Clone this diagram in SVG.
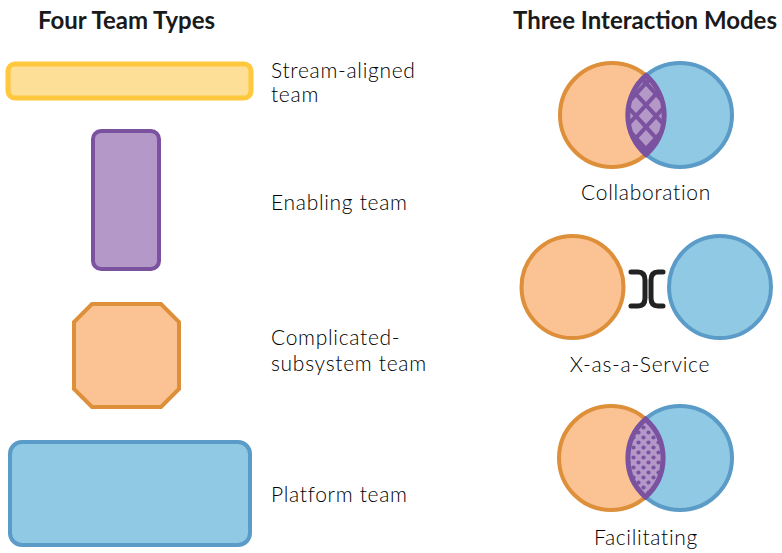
<svg xmlns="http://www.w3.org/2000/svg" width="782" height="553" viewBox="0 0 782 553">
<style>
.title{font-family:Lato,"Open Sans","Liberation Sans",sans-serif;font-weight:bold;font-size:24px;fill:#1a1a1a}
.lbl{font-family:Lato,"Open Sans","Liberation Sans",sans-serif;font-weight:300;font-size:21px;letter-spacing:0.7px;fill:#000}
.mid{text-anchor:middle}
.or{fill:#FBC393;stroke:#DE8F3A;stroke-width:4}
.bl{fill:#8FC9E3;stroke:#5A9BC8;stroke-width:4}
.pu{stroke:#7A52A0;stroke-width:5}
.br{fill:none;stroke:#222;stroke-width:5;stroke-linecap:round;stroke-linejoin:round}
</style>
<defs>
<pattern id="hatch" patternUnits="userSpaceOnUse" width="20" height="22" x="636" y="72">
<rect width="20" height="22" fill="#B398C8"/>
<path d="M0 0 L20 22 M20 0 L0 22" stroke="#7A52A0" stroke-width="4"/>
</pattern>
<pattern id="dots" patternUnits="userSpaceOnUse" width="10" height="10" x="636" y="420">
<rect width="10" height="10" fill="#B398C8"/>
<circle cx="2.5" cy="2.5" r="2.1" fill="#7A52A0"/>
<circle cx="7.5" cy="7.5" r="2.1" fill="#7A52A0"/>
</pattern>
</defs>
<text class="title" x="38" y="29">Four Team Types</text>
<text class="title" x="513" y="29">Three Interaction Modes</text>

<g id="stream-aligned">
<rect x="8" y="64" width="243" height="34" rx="7" fill="#FEDF97" stroke="#FFC83D" stroke-width="5"/>
<text class="lbl" x="271" y="78">Stream-aligned</text>
<text class="lbl" x="271" y="102">team</text>
</g>
<g id="enabling">
<rect x="93" y="131" width="66" height="138" rx="8" fill="#B398C8" stroke="#7A52A0" stroke-width="4"/>
<text class="lbl" x="271" y="210">Enabling team</text>
</g>
<g id="complicated">
<polygon points="92,304 161,304 179,322 179,389 161,407 92,407 74,389 74,322" fill="#FBC393" stroke="#DE8F3A" stroke-width="4"/>
<text class="lbl" x="271" y="345">Complicated-</text>
<text class="lbl" x="271" y="371">subsystem team</text>
</g>
<g id="platform">
<rect x="10" y="442" width="240" height="103" rx="12" fill="#8FC9E3" stroke="#5A9BC8" stroke-width="4"/>
<text class="lbl" x="271" y="502">Platform team</text>
</g>

<g id="collaboration">
<circle class="or" cx="612" cy="115" r="52"/>
<circle class="bl" cx="680" cy="115" r="52"/>
<path class="pu" fill="url(#hatch)" d="M646 75.5 A52 52 0 0 1 646 154.5 A52 52 0 0 1 646 75.5 Z"/>
<text class="lbl mid" x="646" y="200">Collaboration</text>
</g>
<g id="x-as-a-service">
<circle class="or" cx="572.5" cy="287" r="51"/>
<circle class="bl" cx="720" cy="287" r="51"/>
<path class="br" d="M631 272 L638 272 Q645 272 645 280 L645 298 Q645 306 638 306 L631 306"/>
<path class="br" d="M663 272 L658 272 Q651 272 651 280 L651 298 Q651 306 658 306 L663 306"/>
<text class="lbl mid" x="640" y="372">X-as-a-Service</text>
</g>
<g id="facilitating">
<circle class="or" cx="611" cy="458" r="52"/>
<circle class="bl" cx="680" cy="458" r="52"/>
<path class="pu" fill="url(#dots)" d="M645.5 419 A52 52 0 0 1 645.5 497 A52 52 0 0 1 645.5 419 Z"/>
<text class="lbl mid" x="646" y="545">Facilitating</text>
</g>
<g id="connectors"></g>
</svg>
